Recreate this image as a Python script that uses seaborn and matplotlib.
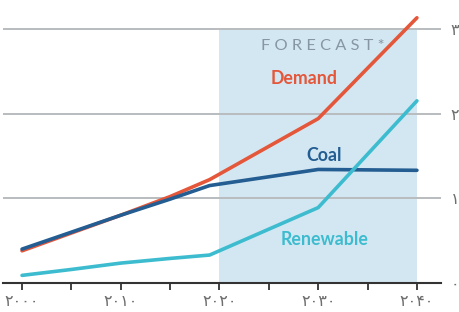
import pandas as pd
import matplotlib
matplotlib.use("Agg")
import matplotlib.pyplot as plt
import seaborn as sns

# Waarden
years = [2000, 2005, 2010, 2015, 2019, 2030, 2040]
demand = [0.38, 0.59, 0.80, 1.02, 1.22, 1.94, 3.13]
coal = [0.40, 0.60, 0.80, 0.99, 1.15, 1.34, 1.33]
renewable = [0.09, 0.16, 0.235, 0.29, 0.33, 0.89, 2.15]

series_names = ["Demand", "Coal", "Renewable"]
series_colors = ["#e4573a", "#235d92", "#3dbccf"]

x_ticks = [2000, 2010, 2020, 2030, 2040]
x_tick_labels = ["۲۰۰۰", "۲۰۱۰", "۲۰۲۰", "۲۰۳۰", "۲۰۴۰"]
y_ticks = [0, 1, 2, 3]
y_tick_labels = ["۰", "۱", "۲", "۳"]

forecast_start, forecast_end = 2020, 2040

df = pd.DataFrame({
    "year": years * 3,
    "value": demand + coal + renewable,
    "series": [n for n in series_names for _ in years],
})

sns.set_theme(style="white")
plt.rcParams["font.family"] = ["Lato", "DejaVu Sans"]

fig = plt.figure(figsize=(4.59, 3.12), dpi=100)
ax = fig.add_axes([3 / 459, 29 / 312, 438 / 459, 283 / 312])

# Voorspellingsgebied
ax.fill_between([forecast_start, forecast_end], 0, 3, color="#d3e7f2", zorder=0, linewidth=0)

for y in y_ticks[1:]:
    ax.axhline(y, color="#b9bcbe", linewidth=1.4, zorder=1)

sns.lineplot(data=df, x="year", y="value", hue="series", palette=series_colors,
             hue_order=series_names, linewidth=2.6, legend=False, ax=ax, zorder=3)

ax.set_xlim(1998.07, 2042.44)
ax.set_ylim(0, 3.34)

ax.set_xticks(x_ticks)
ax.set_xticklabels(x_tick_labels, family="DejaVu Sans", fontsize=11.5, color="#6e6e6e")
ax.set_xticks([2005, 2015, 2025, 2035], minor=True)
ax.tick_params(axis="x", which="both", direction="out", length=5, width=1.3,
               color="#333333", bottom=True, pad=3)

ax.yaxis.tick_right()
ax.set_yticks(y_ticks)
ax.set_yticklabels(y_tick_labels, family="DejaVu Sans", fontsize=11.5, color="#6e6e6e")
ax.tick_params(axis="y", length=0, pad=7)

for side in ["top", "left", "right"]:
    ax.spines[side].set_visible(False)
ax.spines["bottom"].set_color("#333333")
ax.spines["bottom"].set_linewidth(1.5)
ax.set_xlabel("")
ax.set_ylabel("")

ax.text(2030.5, 2.80, "F O R E C A S T *", color="#8796a3", fontsize=11.8,
        ha="center", va="center", zorder=4)
ax.text(2028.6, 2.41, "Demand", color=series_colors[0], fontsize=12.8, fontweight="bold",
        ha="center", va="center", zorder=4)
ax.text(2030.6, 1.51, "Coal", color=series_colors[1], fontsize=12.8, fontweight="bold",
        ha="center", va="center", zorder=4)
ax.text(2030.6, 0.51, "Renewable", color=series_colors[2], fontsize=12.8, fontweight="bold",
        ha="center", va="center", zorder=4)

fig.savefig("out.png", dpi=100)
